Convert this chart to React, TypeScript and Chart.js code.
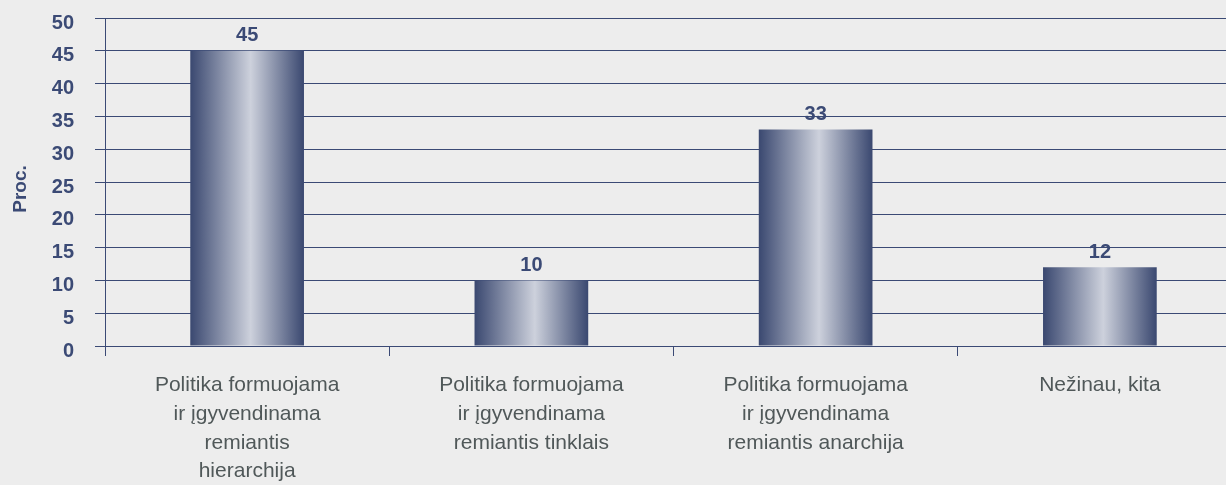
import React, { useEffect, useRef } from "react";
import { Chart, registerables } from "chart.js";

Chart.register(...registerables);

const categories: string[][] = [
  ["Politika formuojama", "ir įgyvendinama", "remiantis", "hierarchija"],
  ["Politika formuojama", "ir įgyvendinama", "remiantis tinklais"],
  ["Politika formuojama", "ir įgyvendinama", "remiantis anarchija"],
  ["Nežinau, kita"],
];
const values: number[] = [45, 10, 33, 12];
const yTicks: number[] = [0, 5, 10, 15, 20, 25, 30, 35, 40, 45, 50];
const yTitle = "Proc.";

const NAVY = "#3B4A75";
const FONT = "'Liberation Sans', Arial, sans-serif";
const CAT_PCT = 0.4;
const SHIFT = 15;

export default function App() {
  const ref = useRef<HTMLCanvasElement | null>(null);

  useEffect(() => {
    if (!ref.current) return;
    const labelPlugin = {
      id: "valueLabels",
      afterDatasetsDraw(chart: any) {
        const c = chart.ctx;
        const meta = chart.getDatasetMeta(0);
        const ys = chart.scales.y;
        c.save();
        c.fillStyle = NAVY;
        c.font = `bold 20px ${FONT}`;
        c.textAlign = "center";
        c.textBaseline = "bottom";
        meta.data.forEach((el: any, i: number) => {
          c.fillText(String(values[i]), el.x, el.y - 5);
        });
        // y tick labels (slightly below their grid lines, as in the original)
        c.textAlign = "right";
        c.textBaseline = "middle";
        yTicks.forEach((v) => {
          c.fillText(String(v), ys.right - 31, ys.getPixelForValue(v) + 5);
        });
        // y-axis title
        c.textAlign = "center";
        c.translate(21, 189 + SHIFT);
        c.rotate(-Math.PI / 2);
        c.font = `bold 19px ${FONT}`;
        c.fillText(yTitle, 0, 0);
        c.restore();
      },
    };
    const barFill = (ctx: any) => {
      const chart = ctx.chart;
      const xs = chart.scales && chart.scales.x;
      if (!xs || ctx.dataIndex === undefined) return NAVY;
      const cx = xs.getPixelForValue(ctx.dataIndex);
      const catW = (xs.right - xs.left) / categories.length;
      const w = catW * CAT_PCT;
      if (!isFinite(cx) || !isFinite(w) || w <= 0) return NAVY;
      const g = chart.ctx.createLinearGradient(cx - w / 2, 0, cx + w / 2, 0);
      g.addColorStop(0, "#3A4870");
      g.addColorStop(0.53, "#CDD1DC");
      g.addColorStop(1, "#3A4870");
      return g;
    };
    const chart = new Chart(ref.current, {
      type: "bar",
      data: {
        labels: categories,
        datasets: [
          {
            data: values,
            backgroundColor: barFill,
            borderWidth: 0,
            categoryPercentage: CAT_PCT,
            barPercentage: 1,
          },
        ],
      },
      options: {
        responsive: false,
        animation: false,
        layout: { padding: { top: 7, left: 0, right: 0, bottom: 0 } },
        plugins: { legend: { display: false }, tooltip: { enabled: false } },
        scales: {
          x: {
            offset: true,
            grid: {
              display: true,
              offset: true,
              drawOnChartArea: false,
              drawTicks: true,
              tickLength: 10,
              color: NAVY,
            },
            border: { display: true, color: NAVY, width: 1 },
            ticks: {
              color: "#505859",
              font: { family: FONT, size: 21, lineHeight: 1.37 },
              padding: 15,
              maxRotation: 0,
              minRotation: 0,
              autoSkip: false,
            },
            afterFit(scale: any) {
              scale.height = 139;
            },
          },
          y: {
            min: 0,
            max: 50,
            afterBuildTicks(scale: any) {
              scale.ticks = yTicks.map((v) => ({ value: v }));
            },
            grid: { color: NAVY, tickLength: 10, lineWidth: 1 },
            border: { display: true, color: NAVY, width: 1 },
            ticks: {
              color: "rgba(0,0,0,0)",
              font: { family: FONT, size: 20, weight: "bold" },
              padding: 21,
            },
            title: { display: false },
            afterFit(scale: any) {
              scale.width = 105;
            },
          },
        },
      },
      plugins: [labelPlugin],
    } as any);
    return () => chart.destroy();
  }, []);

  return (
    <div
      style={{
        position: "absolute",
        left: 0,
        top: 0,
        width: 1226,
        height: 485,
        overflow: "hidden",
        background: "#EDEDED",
      }}
    >
      <canvas
        ref={ref}
        width={1242}
        height={485 + SHIFT}
        style={{ display: "block", position: "absolute", left: 0, top: -SHIFT }}
      />
    </div>
  );
}
